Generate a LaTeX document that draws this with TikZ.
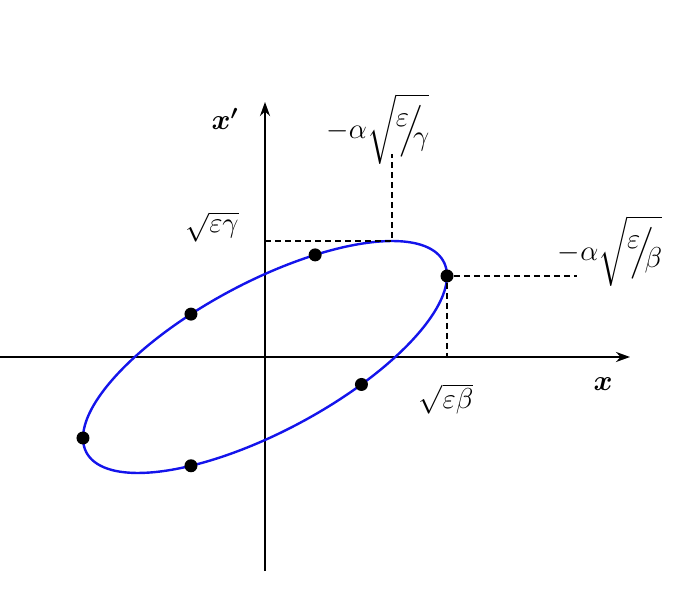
\documentclass[tikz,border=0pt]{standalone}
\usepackage{amsmath}
\usepackage{amssymb}
\usepackage{tikz}
\usetikzlibrary{arrows.meta}

\definecolor{orbitblue}{RGB}{20,20,235}

\begin{document}
\begin{tikzpicture}[x=0.5pt,y=0.5pt,>={Stealth[length=7pt,width=5pt]},
   dot/.style={circle,fill=black,inner sep=0pt,minimum size=6.5pt},
   axis/.style={->,line width=1.3pt},
   orbit/.style={orbitblue,line width=1.2pt},
   guide/.style={dash pattern=on 3pt off 2pt,line width=0.75pt},
   lbl/.style={font=\Large}]
   \useasboundingbox (-265,-236) rectangle (430,357);
   % axes
   \coordinate (x_lo) at (-265,0);
   \coordinate (x_hi) at (365,0);
   \coordinate (y_lo) at (0,-214);
   \coordinate (y_hi) at (0,255);
   \draw[axis] (x_lo) -- (x_hi);
   \draw[axis] (y_lo) -- (y_hi);
   % phase space ellipse
   \draw[orbit] plot[domain=0:360,samples=150,smooth]
      ({182*cos(\x)},{81*cos(\x)+83*sin(\x)});
   \foreach \t [count=\i] in {0,74,114,180,246,302}
      \node[dot] (p_\i) at ({182*cos(\t)},{81*cos(\t)+83*sin(\t)}) {};
   % guide lines
   \coordinate (top) at (127,116);
   \coordinate (top_y) at (0,116);
   \coordinate (top_up) at (127,203);
   \coordinate (right_out) at (312,81);
   \coordinate (right_x) at (182,0);
   \draw[guide] (top_y) -- (top) -- (top_up);
   \draw[guide] (p_1) -- (right_out);
   \draw[guide] (p_1) -- (right_x);
   % labels
   \node[lbl] (xp_lbl) at (-40,238) {$\boldsymbol{x'}$};
   \node[lbl] (x_lbl) at (338,-27) {$\boldsymbol{x}$};
   \node[lbl] (top_lbl) at (113,228)
      {$-\alpha\sqrt{\raisebox{0.4em}{$\varepsilon$}\!\!\Big/\!\!\raisebox{-0.25em}{$\gamma$}}$};
   \node[lbl] (right_lbl) at (345,106)
      {$-\alpha\sqrt{\raisebox{0.4em}{$\varepsilon$}\!\!\Big/\!\!\raisebox{-0.25em}{$\beta$}}$};
   \node[lbl] (sg_lbl) at (-53,130) {$\sqrt{\varepsilon\gamma}$};
   \node[lbl] (sb_lbl) at (181,-42) {$\sqrt{\varepsilon\beta}$};
\end{tikzpicture}
\end{document}
